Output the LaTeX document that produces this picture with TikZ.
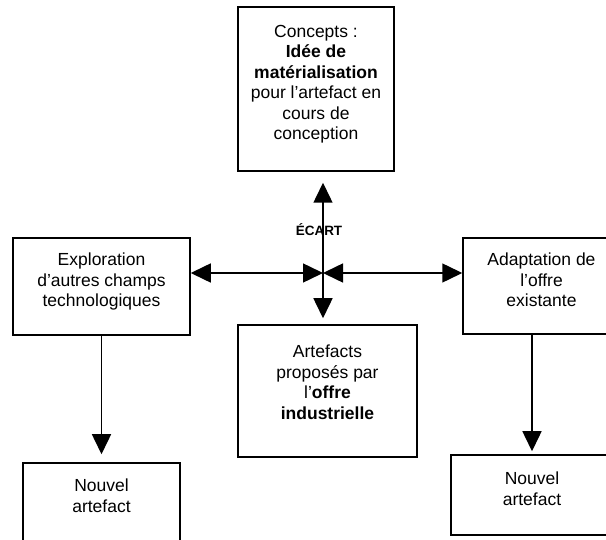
\documentclass[tikz,border=0pt]{standalone}
\usepackage{fontspec}
\setmainfont{Liberation Sans}
\usetikzlibrary{arrows.meta,calc}
\begin{document}
\begin{tikzpicture}[x=1pt,y=-1pt,
  boxst/.style={draw,line width=1.5pt,inner sep=0pt},
  txt/.style={anchor=north,align=center,inner sep=0pt,font=\fontsize{17.5}{20.5}\selectfont},
  tri/.tip={Triangle[length=20pt,width=19pt]},
  arr/.style={line width=1.5pt,tri-tri},
  darr/.style={line width=1.5pt,-tri}]
\clip (0,0) rectangle (606,540);
% boxes
\node[boxst,minimum width=156pt,minimum height=164pt] (top) at (316,89) {};
\node[boxst,minimum width=177pt,minimum height=97pt] (left) at (101.5,286.5) {};
\node[boxst,minimum width=179pt,minimum height=132pt] (mid) at (327.5,391) {};
\node[boxst,minimum width=157pt,minimum height=96pt] (right) at (541.5,286) {};
\node[boxst,minimum width=157pt,minimum height=97pt] (nl) at (101.5,511.5) {};
\node[boxst,minimum width=162pt,minimum height=80pt] (nr) at (532,495) {};
% texts
\node[txt] (ttop) at (316,25) {Concepts :\\\textbf{Idée de}\\\textbf{matérialisation}\\pour l’artefact en\\cours de\\conception};
\node[txt] (tleft) at (101.5,253) {Exploration\\d’autres champs\\technologiques};
\node[txt] (tmid) at (327.5,345) {Artefacts\\proposés par\\l’\textbf{offre}\\\textbf{industrielle}};
\node[txt] (tright) at (541.5,253) {Adaptation de\\l’offre\\existante};
\node[txt] (tnl) at (101.5,479) {Nouvel\\artefact};
\node[txt] (tnr) at (532,472) {Nouvel\\artefact};
\node[anchor=base,inner sep=0pt,font=\fontsize{13.5}{16}\selectfont\bfseries] (ecart) at (319,236) {ÉCART};
% connectors
\coordinate (c) at (323,273);
\draw[arr] (left.east |- c) -- (c);
\draw[arr] (c) -- (right.west |- c);
\draw[arr] ($(c |- top.south)+(0,11)$) -- ($(c |- mid.north)+(0,-6)$);
\draw[darr] (nl.north |- left.south) -- ($(nl.north)+(0,-8)$);
\draw[darr] (nr.north |- right.south) -- ($(nr.north)+(0,-3)$);
\end{tikzpicture}
\end{document}
